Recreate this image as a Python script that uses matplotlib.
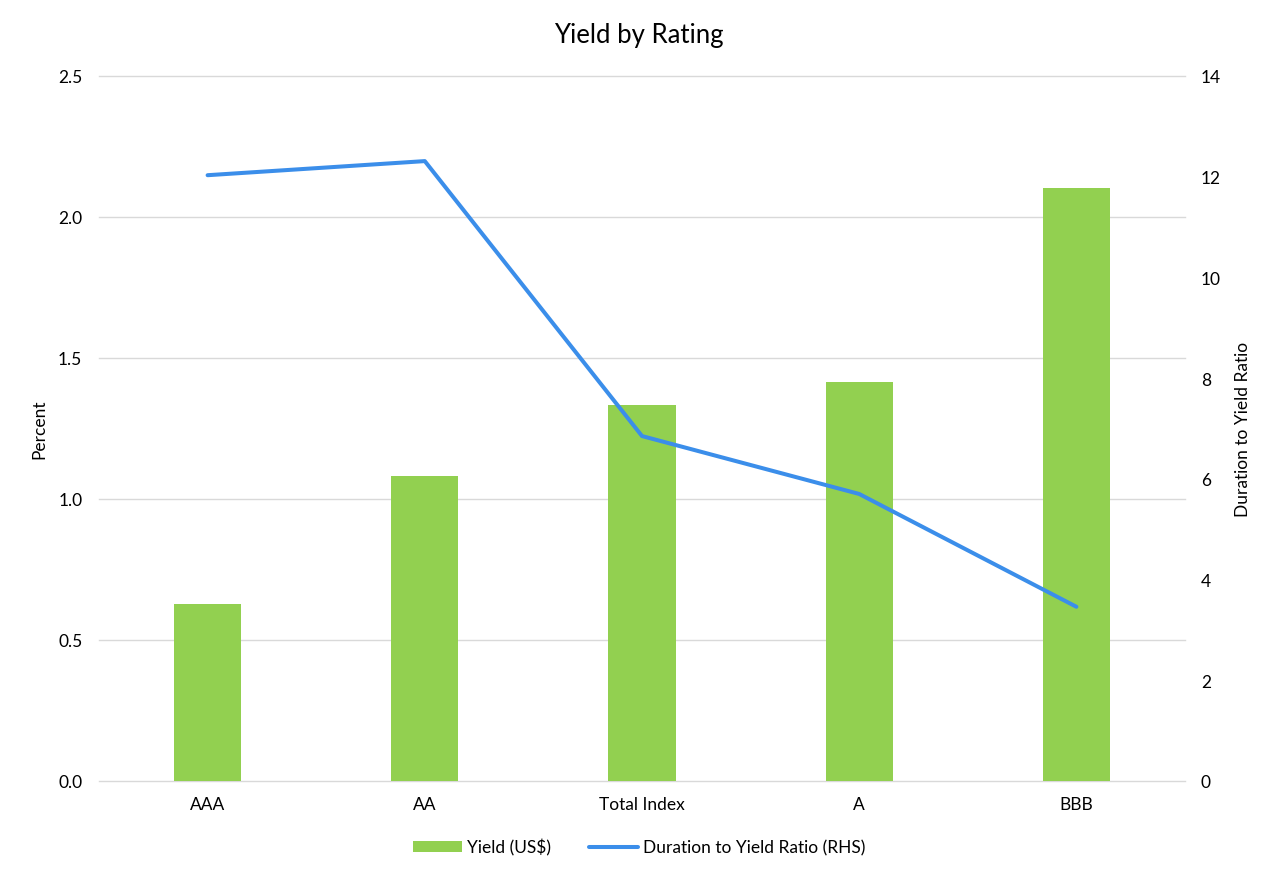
import matplotlib.pyplot as plt
import numpy as np

plt.rcParams['font.family'] = ['Lato', 'DejaVu Sans']

# data
ratings = ["AAA", "AA", "Total Index", "A", "BBB"]
yield_pct = [0.628, 1.082, 1.333, 1.415, 2.103]
dur_to_yield = [12.03, 12.31, 6.85, 5.70, 3.46]
left_ticks = [0.0, 0.5, 1.0, 1.5, 2.0, 2.5]
right_ticks = [0, 2, 4, 6, 8, 10, 12, 14]

green = "#92D050"
blue = "#3B8EEA"
grid_col = "#D9D9D9"

fig = plt.figure(figsize=(12.78, 8.79), dpi=100)
ax = fig.add_axes([99/1278, 1-782/879, (1185-99)/1278, (782-77)/879])
x = np.arange(len(ratings))

bars = ax.bar(x, yield_pct, width=0.31, color=green, zorder=2, label="Yield (US$)")
ax.set_xlim(-0.5, len(ratings)-0.5)
ax.set_ylim(0, 2.5)
ax.set_yticks(left_ticks)
ax.set_yticklabels([f"{v:.1f}" for v in left_ticks])
ax.set_xticks(x)
ax.set_xticklabels(ratings)
ax.yaxis.grid(True, color=grid_col, linewidth=1.0, zorder=0)
for gl in ax.get_ygridlines():
    gl.set_clip_on(False)
ax.set_axisbelow(True)
for s in ax.spines.values():
    s.set_visible(False)
ax.tick_params(axis="both", length=0, labelsize=12.5, colors="black")
ax.tick_params(axis="y", pad=12)
ax.tick_params(axis="x", pad=11)
ax.set_ylabel("Percent", fontsize=12.5, labelpad=8)

ax2 = ax.twinx()
line, = ax2.plot(x, dur_to_yield, color=blue, linewidth=2.9, solid_capstyle="round",
                 zorder=3, label="Duration to Yield Ratio (RHS)")
ax2.set_ylim(0, 14)
ax2.set_yticks(right_ticks)
for s in ax2.spines.values():
    s.set_visible(False)
ax2.tick_params(axis="y", length=0, labelsize=12.5, pad=11.5)
ax2.set_ylabel("Duration to Yield Ratio", fontsize=12.5, labelpad=10)

fig.suptitle("Yield by Rating", x=0.5, y=1-35/879, va="center", fontsize=18.5)

fig.legend([bars, line], ["Yield (US$)", "Duration to Yield Ratio (RHS)"],
           loc="center", bbox_to_anchor=(0.5, 1-848/879), ncol=2, frameon=False,
           fontsize=12.5, handlelength=2.8, handleheight=0.6, columnspacing=2.2,
           handletextpad=0.3)

fig.savefig("out.png", dpi=100)
